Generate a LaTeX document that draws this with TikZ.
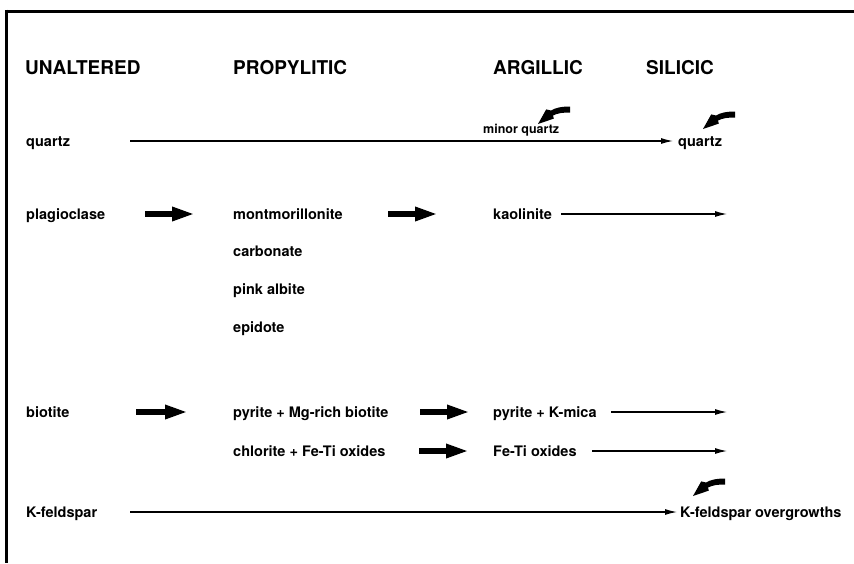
\documentclass[tikz,border=0pt]{standalone}
\usepackage{fontspec}
\setmainfont{TeX Gyre Heros}
\usetikzlibrary{arrows.meta}
\begin{document}
\begin{tikzpicture}[x=1pt,y=-1pt,
  hdr/.style={anchor=base west,inner sep=0pt,font=\fontsize{19}{19}\selectfont\bfseries},
  lbl/.style={anchor=base west,inner sep=0pt,font=\fontsize{14.5}{14.5}\selectfont\bfseries},
  sml/.style={anchor=base west,inner sep=0pt,font=\fontsize{12.5}{12.5}\selectfont\bfseries},
  fatarrow/.style={line width=6pt,-{Triangle[length=23pt,width=13pt]}},
  thinarrow/.style={line width=1.1pt,-{Latex[length=12pt,width=6pt]}},
  framerule/.style={line width=3pt},
  bend/.pic={\fill[black] (0,-3.5) .. controls (-9,-3.5) and (-15,-2) .. (-19,0.5)
     -- (-23.8,-0.6) -- (-32,14) -- (-16.2,8.6) -- (-17,5.5)
     .. controls (-12,3) and (-7,2.5) .. (0,2.5) -- cycle;}]
\useasboundingbox (0,0) rectangle (854,563);
% frame
\draw[framerule] (5,11) -- (854,11);
\draw[framerule] (6.5,9.5) -- (6.5,563);
% headers
\node[hdr] (hU) at (25,74) {UNALTERED};
\node[hdr] (hP) at (233,74) {PROPYLITIC};
\node[hdr] (hA) at (493,74) {ARGILLIC};
\node[hdr] (hS) at (646,74) {SILICIC};
% quartz row
\node[lbl] (q0) at (26,146) {quartz};
\node[lbl] (q1) at (678,146) {quartz};
\node[sml] (mq) at (483,133) {minor quartz};
\coordinate (qs) at (130,141);
\draw[thinarrow] (qs) -- (qs -| q1.west) [shorten >=5pt];
\pic at (570,110) {bend};
\pic at (735,115) {bend};
% plagioclase row
\node[lbl] (pl) at (26,219) {plagioclase};
\node[lbl] (mo) at (233,219) {montmorillonite};
\node[lbl] (ka) at (493,219) {kaolinite};
\node[lbl] (ca) at (233,256) {carbonate};
\node[lbl] (pa) at (233,294) {pink albite};
\node[lbl] (ep) at (233,332) {epidote};
\coordinate (f1s) at (145,214); \coordinate (f1e) at (195,214);
\coordinate (f2s) at (388,214); \coordinate (f2e) at (438,214);
\draw[fatarrow] (f1s) -- (f1e);
\draw[fatarrow] (f2s) -- (f2e);
\coordinate (t1s) at (561,214); \coordinate (t1e) at (727,214);
\draw[thinarrow] (t1s) -- (t1e);
% biotite rows
\node[lbl] (bi) at (26,417) {biotite};
\node[lbl] (pm) at (233,417) {pyrite + Mg-rich biotite};
\node[lbl] (pk) at (493,417) {pyrite + K-mica};
\node[lbl] (cf) at (233,456) {chlorite + Fe-Ti oxides};
\node[lbl] (ft) at (493,456) {Fe-Ti oxides};
\coordinate (f3s) at (136,412); \coordinate (f3e) at (188,412);
\coordinate (f4s) at (420,412); \coordinate (f4e) at (470,412);
\coordinate (f5s) at (419,451); \coordinate (f5e) at (469,451);
\draw[fatarrow] (f3s) -- (f3e);
\draw[fatarrow] (f4s) -- (f4e);
\draw[fatarrow] (f5s) -- (f5e);
\coordinate (t2s) at (611,412); \coordinate (t2e) at (727,412);
\coordinate (t3s) at (592,451); \coordinate (t3e) at (727,451);
\draw[thinarrow] (t2s) -- (t2e);
\draw[thinarrow] (t3s) -- (t3e);
% K-feldspar row
\node[lbl] (kf) at (26,517) {K-feldspar};
\node[lbl] (ko) at (680,517) {K-feldspar overgrowths};
\coordinate (ks) at (130,512);
\draw[thinarrow] (ks) -- (ks -| ko.west) [shorten >=3pt];
\pic at (725,482) {bend};
\end{tikzpicture}
\end{document}
